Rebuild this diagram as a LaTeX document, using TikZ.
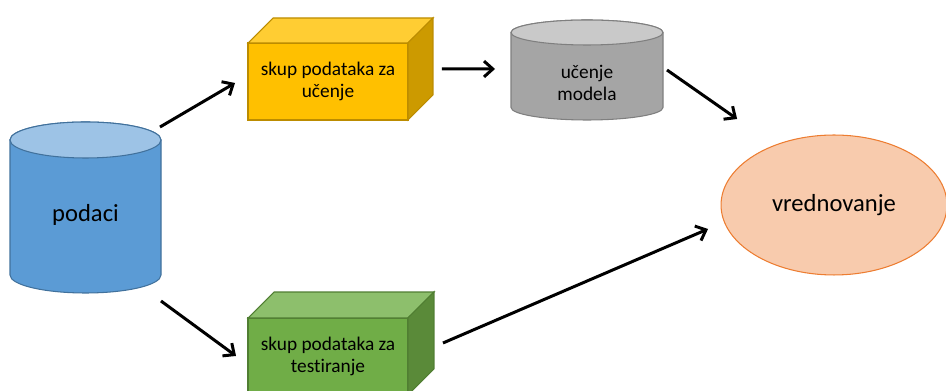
\documentclass[tikz,border=0pt]{standalone}
\usepackage{fontspec}
\setmainfont{Carlito}[Ligatures=NoCommon]
\usetikzlibrary{arrows.meta,shapes.geometric,positioning}

\definecolor{plavaT}{HTML}{9DC3E6}
\definecolor{plava}{HTML}{5B9BD5}
\definecolor{plavaR}{HTML}{41719C}
\definecolor{sivaT}{HTML}{C9C9C9}
\definecolor{siva}{HTML}{A5A5A5}
\definecolor{sivaR}{HTML}{7F7F7F}
\definecolor{zutaT}{HTML}{FFCD33}
\definecolor{zuta}{HTML}{FFC000}
\definecolor{zutaB}{HTML}{CC9A00}
\definecolor{zutaR}{HTML}{BC8C00}
\definecolor{zelenaT}{HTML}{8DBF6C}
\definecolor{zelena}{HTML}{70AD47}
\definecolor{zelenaB}{HTML}{5A8A39}
\definecolor{zelenaR}{HTML}{507E32}
\definecolor{breskva}{HTML}{F8CBAD}
\definecolor{narandzasta}{HTML}{ED7D31}

\begin{document}
\begin{tikzpicture}[x=0.02cm,y=0.02cm,
    kutija/.style={rectangle,line width=0.6pt,inner sep=0pt,outer sep=0pt,
        minimum width=3.2cm,minimum height=1.54cm,align=center,
        font=\fontsize{11}{12.5}\selectfont},
    tekst/.style={inner sep=0pt,outer sep=0pt,align=center},
    strelica/.style={-{Straight Barb[length=5pt,width=9pt]},line width=1.7pt}]
    \useasboundingbox (0,0) rectangle (946,391);

    % cilindar podaci
    \draw[plavaR,fill=plava,line width=0.6pt] (10,251) -- (10,116)
        arc[start angle=180,end angle=360,x radius=75.5,y radius=18] -- (161,251)
        arc[start angle=0,end angle=180,x radius=75.5,y radius=18] -- cycle;
    \draw[plavaR,fill=plavaT,line width=0.6pt] (85.5,251) ellipse[x radius=75.5,y radius=18];
    \node[tekst,minimum width=3.02cm,minimum height=3cm,font=\fontsize{14}{16}\selectfont] (podaci) at (85.5,176) {podaci};

    % cilindar ucenje modela
    \draw[sivaR,fill=siva,line width=0.6pt] (511,358.5) -- (511,283.5)
        arc[start angle=180,end angle=360,x radius=76,y radius=12.5] -- (663,358.5)
        arc[start angle=0,end angle=180,x radius=76,y radius=12.5] -- cycle;
    \draw[sivaR,fill=sivaT,line width=0.6pt] (587,358.5) ellipse[x radius=76,y radius=12.5];
    \node[tekst,minimum width=3.04cm,minimum height=1.48cm,font=\fontsize{11}{12.5}\selectfont] (model) at (587,308) {učenje\\modela};

    % skupovi podataka
    \node[kutija,draw=zutaR,fill=zuta] (ucenje) at (328,309.5) {skup podataka za\\učenje};
    \draw[zutaR,fill=zutaT,line width=0.6pt] (ucenje.north west) -- ++(25,25) -- ++(160,0) -- (ucenje.north east) -- cycle;
    \draw[zutaR,fill=zutaB,line width=0.6pt] (ucenje.north east) -- ++(25,25) -- ++(0,-77) -- (ucenje.south east) -- cycle;

    \node[kutija,draw=zelenaR,fill=zelena] (testiranje) at (328,34.5) {skup podataka za\\testiranje};
    \draw[zelenaR,fill=zelenaT,line width=0.6pt] (testiranje.north west) -- ++(26,26) -- ++(160,0) -- (testiranje.north east) -- cycle;
    \draw[zelenaR,fill=zelenaB,line width=0.6pt] (testiranje.north east) -- ++(26,26) -- ++(0,-77) -- (testiranje.south east) -- cycle;

    % vrednovanje
    \node[ellipse,draw=narandzasta,fill=breskva,line width=0.6pt,inner sep=0pt,outer sep=0pt,
        minimum width=4.52cm,minimum height=2.8cm,font=\fontsize{14}{16}\selectfont] (vrednovanje) at (834,186) {vrednovanje};

    \draw[strelica] ([shift={(-1,13)}]podaci.north east) -- ([shift={(-13,-1.5)}]ucenje.west);
    \draw[strelica] ([shift={(0,-11)}]podaci.south east) -- ([shift={(-12,0.5)}]testiranje.west);
    \draw[strelica] ([shift={(34,12.5)}]ucenje.east) -- ([shift={(-16,14)}]model.west);
    \draw[strelica] ([shift={(4,13)}]model.east) -- ([shift={(-17,36.5)}]vrednovanje.north west);
    \draw[strelica] ([shift={(35,13.5)}]testiranje.east) -- ([shift={(-13,-24)}]vrednovanje.west);
\end{tikzpicture}
\end{document}
